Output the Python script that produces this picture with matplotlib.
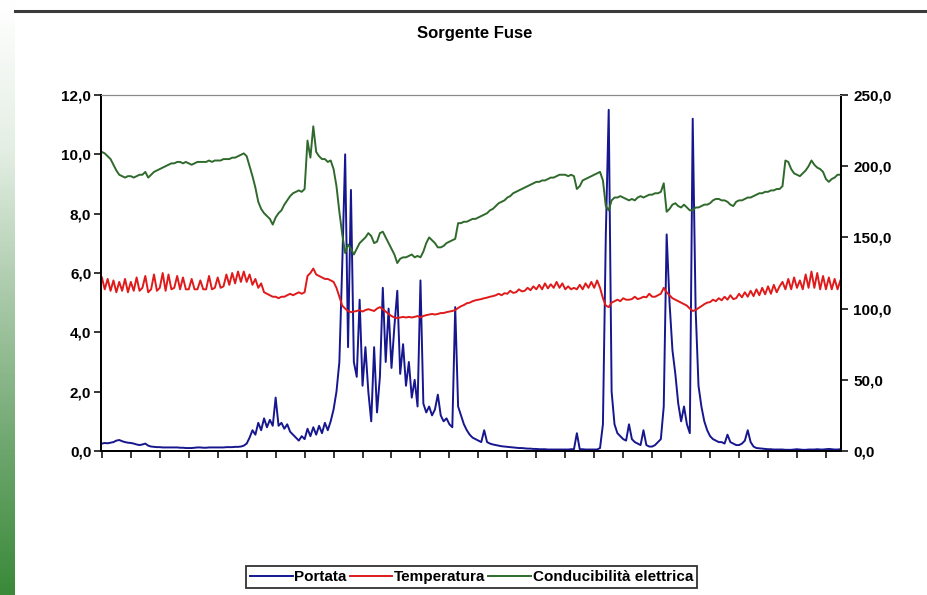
import matplotlib
matplotlib.use("Agg")
import matplotlib.pyplot as plt
import numpy as np
from matplotlib.colors import LinearSegmentedColormap
from matplotlib.lines import Line2D
from matplotlib.ticker import FixedLocator, FuncFormatter

plt.rcParams['font.family'] = ['Liberation Sans', 'DejaVu Sans']

title = "Sorgente Fuse"
series_names = ["Portata", "Temperatura", "Conducibilità elettrica"]

# one reading every 0.1 tick interval (26 tick marks on the x axis)
portata = [
    0.25, 0.27, 0.26, 0.28, 0.3, 0.35, 0.37, 0.33, 0.3, 0.28,
    0.27, 0.25, 0.22, 0.2, 0.22, 0.25, 0.18, 0.15, 0.14, 0.13,
    0.13, 0.12, 0.12, 0.12, 0.12, 0.12, 0.12, 0.11, 0.11, 0.1,
    0.1, 0.1, 0.11, 0.12, 0.12, 0.11, 0.11, 0.12, 0.12, 0.12,
    0.12, 0.12, 0.12, 0.13, 0.13, 0.13, 0.14, 0.14, 0.15, 0.18,
    0.25, 0.45, 0.7, 0.55, 0.95, 0.7, 1.1, 0.8, 1.05, 0.85,
    1.8, 0.85, 0.95, 0.75, 0.9, 0.65, 0.55, 0.45, 0.35, 0.5,
    0.4, 0.75, 0.5, 0.8, 0.55, 0.85, 0.6, 0.95, 0.7, 1.0,
    1.4, 2.0, 3.0, 6.3, 10.0, 3.5, 8.8, 3.0, 2.5, 5.1,
    2.2, 3.5, 2.0, 1.0, 3.5, 1.3, 2.5, 5.5, 3.0, 4.8,
    2.8, 4.2, 5.4, 2.6, 3.6, 2.2, 3.0, 1.8, 2.4, 1.5,
    5.75, 1.6, 1.3, 1.5, 1.2, 1.4, 1.9, 1.2, 1.0, 1.1,
    0.9, 0.8, 4.85, 1.5, 1.2, 0.9, 0.7, 0.55, 0.45, 0.4,
    0.35, 0.3, 0.7, 0.3, 0.25, 0.22, 0.2, 0.18, 0.16, 0.15,
    0.14, 0.13, 0.12, 0.11, 0.1, 0.1, 0.09, 0.08, 0.08, 0.07,
    0.07, 0.06, 0.06, 0.06, 0.05, 0.05, 0.05, 0.05, 0.05, 0.05,
    0.05, 0.05, 0.06, 0.06, 0.6, 0.06, 0.06, 0.05, 0.05, 0.05,
    0.05, 0.05, 0.1, 0.9, 7.3, 11.5, 2.0, 0.9, 0.6, 0.5,
    0.4, 0.35, 0.9, 0.4, 0.3, 0.25, 0.2, 0.7, 0.2, 0.15,
    0.15, 0.2, 0.3, 0.4, 1.5, 7.3, 5.0, 3.4, 2.6, 1.6,
    1.0, 1.5, 0.9, 0.6, 11.2, 4.8, 2.2, 1.5, 1.0, 0.7,
    0.5, 0.4, 0.35, 0.3, 0.3, 0.25, 0.55, 0.3, 0.25, 0.2,
    0.2, 0.25, 0.35, 0.7, 0.3, 0.15, 0.1, 0.09, 0.08, 0.07,
    0.06, 0.06, 0.05, 0.05, 0.05, 0.05, 0.04, 0.04, 0.04, 0.05,
    0.06, 0.05, 0.04, 0.04, 0.05, 0.05, 0.05, 0.06, 0.05, 0.05,
    0.06, 0.07, 0.06, 0.05, 0.05, 0.06,
]

temperatura = [
    5.85, 5.45, 5.8, 5.4, 5.75, 5.35, 5.7, 5.4, 5.8, 5.35,
    5.7, 5.4, 5.85, 5.4, 5.5, 5.9, 5.35, 5.45, 5.95, 5.4,
    5.5, 6.0, 5.4, 5.95, 5.45, 5.5, 5.9, 5.45, 5.85, 5.45,
    5.45, 5.8, 5.45, 5.45, 5.75, 5.45, 5.45, 5.9, 5.45, 5.5,
    5.85, 5.5, 5.55, 5.95, 5.6, 6.0, 5.65, 6.05, 5.7, 6.05,
    5.7, 5.95, 5.6, 5.8, 5.5, 5.65, 5.35, 5.3, 5.25, 5.2,
    5.2, 5.15, 5.2, 5.2, 5.25, 5.3, 5.25, 5.3, 5.35, 5.3,
    5.35, 5.9, 6.0, 6.15, 5.95, 5.9, 5.85, 5.8, 5.8, 5.75,
    5.7, 5.5, 5.2, 4.9, 4.8, 4.72, 4.68, 4.7, 4.72, 4.75,
    4.7, 4.75, 4.78, 4.75, 4.72, 4.8, 4.85, 4.78, 4.7, 4.62,
    4.55, 4.5, 4.48, 4.5, 4.52, 4.5, 4.52, 4.5, 4.52, 4.55,
    4.5, 4.55, 4.58, 4.6, 4.62, 4.6, 4.62, 4.65, 4.65, 4.68,
    4.7, 4.72, 4.75, 4.82, 4.88, 4.92, 4.98, 5.0, 5.05, 5.08,
    5.1, 5.12, 5.15, 5.17, 5.2, 5.22, 5.25, 5.3, 5.25, 5.32,
    5.3, 5.4, 5.33, 5.35, 5.45, 5.38, 5.4, 5.5, 5.42, 5.55,
    5.45, 5.6, 5.45, 5.65, 5.48, 5.62, 5.5, 5.7, 5.5, 5.65,
    5.45, 5.55, 5.45, 5.5, 5.45, 5.6, 5.45, 5.65, 5.5, 5.7,
    5.5, 5.75, 5.5, 5.15, 4.9, 4.85, 5.0, 5.05, 5.1, 5.05,
    5.15, 5.1, 5.1, 5.12, 5.2, 5.12, 5.15, 5.2, 5.18, 5.3,
    5.2, 5.2, 5.25, 5.3, 5.5, 5.35, 5.25, 5.15, 5.1, 5.05,
    5.0, 4.95, 4.9, 4.8, 4.72, 4.75, 4.82, 4.88, 4.95, 5.0,
    5.02, 5.1, 5.05, 5.15, 5.08, 5.2, 5.1, 5.25, 5.12, 5.15,
    5.3, 5.18, 5.35, 5.2, 5.4, 5.22, 5.45, 5.25, 5.5, 5.28,
    5.55, 5.3, 5.6, 5.35, 5.55, 5.7, 5.45, 5.8, 5.45, 5.85,
    5.5, 5.75, 5.45, 5.95, 5.5, 6.05, 5.5, 6.0, 5.45, 5.9,
    5.45, 5.85, 5.45, 5.8, 5.45, 5.75,
]

conducibilita = [
    210, 209, 207, 205, 201, 197, 194, 193, 192, 193,
    193, 192, 193, 194, 194, 196, 192, 194, 196, 197,
    198, 199, 200, 201, 202, 202, 203, 203, 202, 203,
    202, 201, 202, 203, 203, 203, 203, 204, 203, 204,
    204, 204, 205, 205, 205, 206, 206, 207, 208, 209,
    207, 200, 193, 185, 175, 170, 167, 165, 163, 159,
    164, 167, 169, 173, 176, 179, 181, 182, 183, 182,
    184, 218, 206, 228, 210, 207, 205, 205, 203, 204,
    198, 186, 168, 152, 139, 145, 142, 138, 142, 146,
    148, 150, 153, 151, 146, 147, 153, 154, 150, 146,
    142, 138, 132, 135, 136, 136, 137, 138, 136, 137,
    136, 140, 146, 150, 148, 146, 143, 143, 144, 146,
    147, 148, 149, 160, 160, 161, 161, 162, 163, 163,
    164, 165, 166, 167, 169, 170, 172, 174, 175, 176,
    178, 179, 181, 182, 183, 184, 185, 186, 187, 188,
    189, 189, 190, 190, 191, 192, 192, 193, 194, 194,
    194, 193, 194, 193, 184, 186, 190, 191, 192, 193,
    194, 195, 196, 190, 172, 169, 176, 178, 178, 179,
    178, 177, 176, 177, 176, 178, 179, 178, 179, 180,
    180, 181, 181, 182, 188, 168, 170, 173, 174, 172,
    171, 173, 171, 169, 169, 171, 171, 172, 173, 173,
    174, 176, 177, 177, 176, 176, 175, 173, 172, 175,
    176, 176, 177, 178, 178, 179, 180, 181, 181, 182,
    182, 183, 183, 184, 184, 186, 204, 203, 198, 195,
    194, 193, 195, 197, 200, 204, 201, 199, 198, 196,
    191, 189, 191, 192, 194, 194,
]

left_ticks = [0, 2, 4, 6, 8, 10, 12]
right_ticks = [0, 50, 100, 150, 200, 250]
n_xticks = 26

colors = ["#16168f", "#e01a1a", "#2f6a2c"]


def comma(v, pos=None):
    return f"{v:.1f}".replace(".", ",")


fig = plt.figure(figsize=(9.28, 5.95), dpi=100)
fig.patch.set_facecolor("white")

# green slide strip on the left and the dark scan edge at the top
strip = fig.add_axes([0, 0, 15 / 928, 1])
grad = np.linspace(0, 1, 200).reshape(-1, 1)
cmap = LinearSegmentedColormap.from_list(
    "strip", ["#ffffff", "#e4eee4", "#a9c9a9", "#6fa76f", "#3a8a3a"])
strip.imshow(grad, aspect="auto", cmap=cmap, extent=[0, 1, 0, 1], origin="upper")
strip.axis("off")
fig.add_artist(Line2D([15 / 928, 1], [0.981, 0.981], color="#3a3a3a", lw=2.2,
                      transform=fig.transFigure))

ax = fig.add_axes([101 / 928, 144 / 595, 740 / 928, 356 / 595])
ax2 = ax.twinx()

x_p = np.arange(len(portata)) * 0.1
x_t = np.arange(len(temperatura)) * 0.1
x_c = np.arange(len(conducibilita)) * 0.1

l1, = ax.plot(x_p, portata, color=colors[0], lw=1.4, label=series_names[0])
l2, = ax.plot(x_t, temperatura, color=colors[1], lw=1.4, label=series_names[1])
l3, = ax2.plot(x_c, conducibilita, color=colors[2], lw=1.4, label=series_names[2])

ax.set_xlim(-0.03, 25.52)
ax.set_ylim(0, 12)
ax2.set_ylim(0, 250)
ax.xaxis.set_major_locator(FixedLocator(range(n_xticks)))
ax.set_xticklabels([])
ax.yaxis.set_major_locator(FixedLocator(left_ticks))
ax2.yaxis.set_major_locator(FixedLocator(right_ticks))
ax.yaxis.set_major_formatter(FuncFormatter(comma))
ax2.yaxis.set_major_formatter(FuncFormatter(comma))

for a in (ax, ax2):
    a.tick_params(axis="both", direction="out", length=5, width=1.1, colors="black",
                  labelsize=11)
    for lab in a.get_yticklabels():
        lab.set_fontweight("bold")
    a.spines["top"].set_color("#8a8a8a")
    a.spines["top"].set_linestyle((0, (2, 1)))
    for s in ("left", "right", "bottom"):
        a.spines[s].set_linewidth(1.3)
ax.tick_params(axis="y", pad=2)
ax2.tick_params(axis="y", pad=4)
ax.set_facecolor("none")

fig.text(0.511, 0.944, title, ha="center", va="center", fontsize=12, fontweight="bold")

leg = fig.legend(handles=[l1, l2, l3], loc="center", bbox_to_anchor=(0.508, 0.030),
                 ncol=3, frameon=True, fancybox=False, edgecolor="black",
                 handlelength=2.8, handletextpad=0.1, columnspacing=0.2,
                 borderpad=0.25, borderaxespad=0,
                 prop={"weight": "bold", "size": 11})
leg.get_frame().set_linewidth(1.3)

fig.savefig("out.png", dpi=100)
